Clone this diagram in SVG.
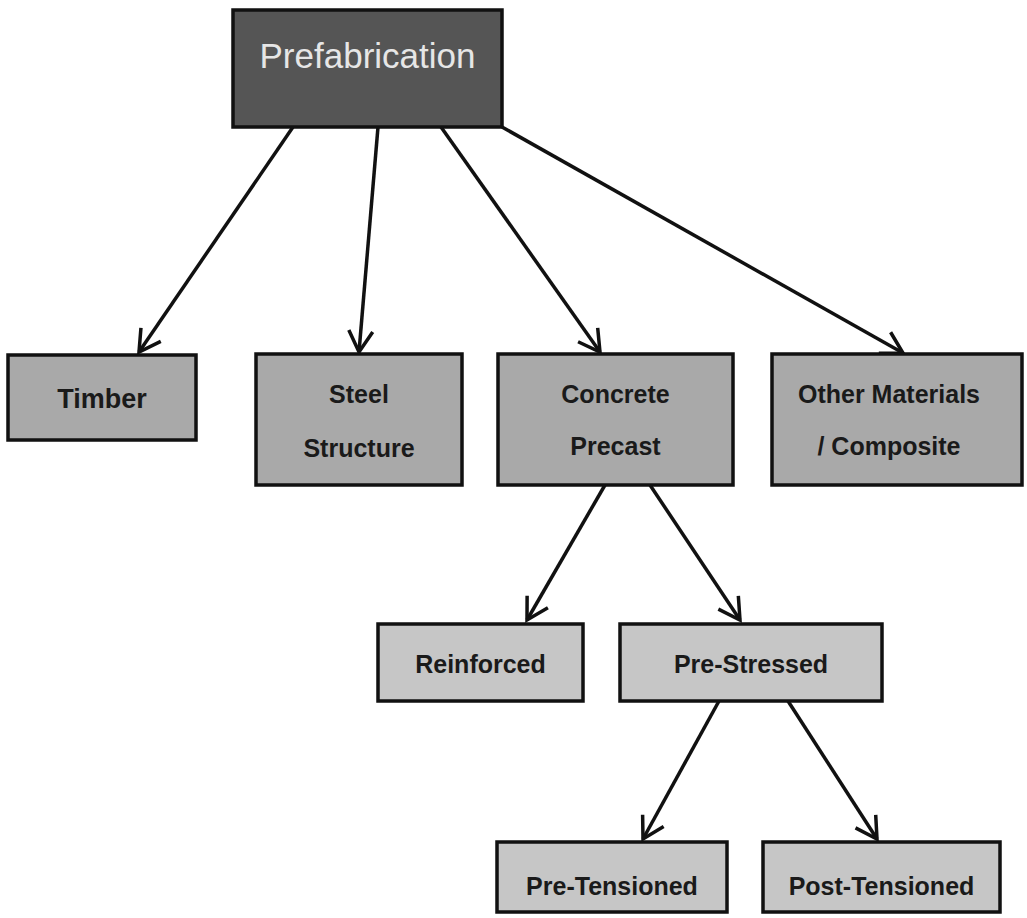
<svg xmlns="http://www.w3.org/2000/svg" width="1027" height="918" viewBox="0 0 1027 918">
<defs>
<style>
.box{stroke:#111;stroke-width:3.5}
.root{fill:#555555}
.l1{fill:#a9a9a9}
.l2{fill:#c6c6c6}
.t{font-family:"Liberation Sans",Arial,sans-serif;font-size:25px;font-weight:bold;fill:#1a1a1a;text-anchor:middle}
.tr{font-family:"Liberation Sans",Arial,sans-serif;font-size:35px;fill:#e6e6e6;text-anchor:middle}
.c{stroke:#111;stroke-width:3.5;fill:none;marker-end:url(#ah)}
</style>
<marker id="ah" markerUnits="userSpaceOnUse" markerWidth="34" markerHeight="34" viewBox="-26 -17 30 34" refX="0" refY="0" orient="auto">
<path d="M-21,-12 L0,0 L-21,12" fill="none" stroke="#111" stroke-width="3.5"/>
</marker>
</defs>
<rect width="1027" height="918" fill="#ffffff"/>
<g id="connectors">
<line class="c" x1="293" y1="127" x2="139" y2="352"/>
<line class="c" x1="378" y1="127" x2="359" y2="352"/>
<line class="c" x1="441" y1="127" x2="600" y2="352"/>
<line class="c" x1="502" y1="127" x2="903" y2="353"/>
<line class="c" x1="605" y1="485" x2="527" y2="620"/>
<line class="c" x1="650" y1="485" x2="740" y2="620"/>
<line class="c" x1="719" y1="701" x2="643" y2="839"/>
<line class="c" x1="788" y1="701" x2="877" y2="839"/>
</g>
<g id="prefabrication">
<rect class="box root" x="233" y="10" width="269" height="117"/>
<text class="tr" x="367.5" y="68">Prefabrication</text>
</g>
<g id="timber">
<rect class="box l1" x="8" y="355" width="188" height="85"/>
<text class="t" x="102" y="408" style="font-size:27px">Timber</text>
</g>
<g id="steel">
<rect class="box l1" x="256" y="354" width="206" height="131"/>
<text class="t" x="359" y="403">Steel</text>
<text class="t" x="359" y="457">Structure</text>
</g>
<g id="concrete">
<rect class="box l1" x="498" y="354" width="235" height="131"/>
<text class="t" x="615.5" y="403">Concrete</text>
<text class="t" x="615.5" y="455">Precast</text>
</g>
<g id="other">
<rect class="box l1" x="772" y="354" width="250" height="131"/>
<text class="t" x="889" y="403">Other Materials</text>
<text class="t" x="889" y="455">/ Composite</text>
</g>
<g id="reinforced">
<rect class="box l2" x="378" y="624" width="205" height="77"/>
<text class="t" x="480.5" y="673">Reinforced</text>
</g>
<g id="prestressed">
<rect class="box l2" x="620" y="624" width="262" height="77"/>
<text class="t" x="751" y="673">Pre-Stressed</text>
</g>
<g id="pretensioned">
<rect class="box l2" x="497" y="842" width="230" height="70"/>
<text class="t" x="612" y="895">Pre-Tensioned</text>
</g>
<g id="posttensioned">
<rect class="box l2" x="763" y="842" width="237" height="70"/>
<text class="t" x="881.5" y="895">Post-Tensioned</text>
</g>
</svg>
